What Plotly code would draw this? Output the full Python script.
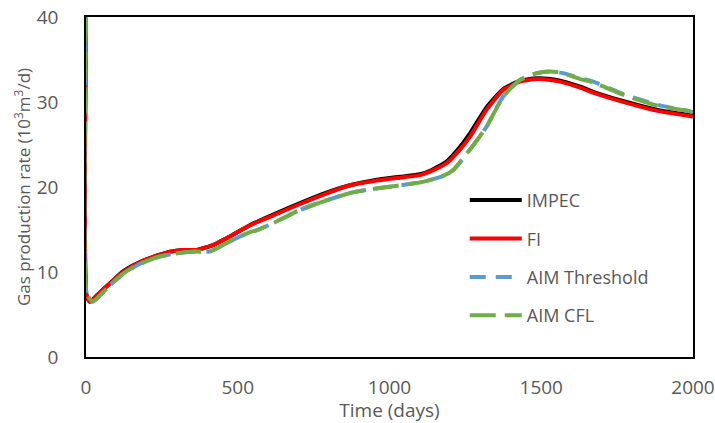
import plotly.graph_objects as go

# FI / IMPEC (nearly identical)
t_fi = [0, 2, 13, 40, 80, 123, 180, 240, 277, 320, 365, 420, 480, 540, 600, 705, 790, 870, 950, 1035, 1100, 1133, 1188, 1232, 1265, 1320, 1374, 1430, 1485, 1530, 1562, 1628, 1671, 1781, 1891, 2000]
q_fi = [40, 7.2, 6.5, 7.4, 8.7, 10.0, 11.2, 12.0, 12.4, 12.6, 12.6, 13.2, 14.3, 15.5, 16.4, 18.0, 19.2, 20.2, 20.7, 21.1, 21.4, 21.8, 22.8, 24.4, 25.9, 29.1, 31.4, 32.4, 32.7, 32.6, 32.4, 31.7, 31.1, 29.9, 28.9, 28.3]

t_impec = [0, 2, 13, 40, 80, 123, 180, 240, 277, 320, 365, 420, 480, 540, 600, 705, 790, 870, 950, 1035, 1100, 1133, 1188, 1232, 1265, 1320, 1374, 1430, 1485, 1530, 1562, 1628, 1671, 1781, 1891, 2000]
q_impec = [40, 7.2, 6.5, 7.4, 8.7, 10.1, 11.2, 12.0, 12.4, 12.6, 12.6, 13.2, 14.3, 15.5, 16.5, 18.1, 19.3, 20.2, 20.8, 21.2, 21.5, 21.9, 23.0, 24.7, 26.3, 29.4, 31.5, 32.5, 32.8, 32.7, 32.5, 31.8, 31.2, 30.0, 29.0, 28.4]

# AIM Threshold / AIM CFL (nearly identical)
t_aim = [0, 2, 22, 50, 90, 130, 180, 240, 300, 360, 408, 474, 540, 562, 620, 705, 790, 870, 950, 1035, 1110, 1177, 1210, 1265, 1320, 1374, 1430, 1485, 1530, 1572, 1628, 1671, 1781, 1891, 1990, 2000]
q_aim = [40, 7.5, 6.5, 7.4, 8.8, 10.0, 11.0, 11.8, 12.2, 12.4, 12.4, 13.6, 14.7, 14.9, 15.8, 17.3, 18.4, 19.3, 19.8, 20.2, 20.6, 21.3, 22.0, 24.4, 27.1, 30.6, 32.6, 33.4, 33.6, 33.4, 32.8, 32.4, 30.8, 29.6, 28.9, 28.8]

t_cfl = t_aim
q_cfl = [40, 7.5, 6.5, 7.4, 8.8, 10.0, 11.0, 11.8, 12.2, 12.4, 12.4, 13.6, 14.7, 14.9, 15.8, 17.3, 18.4, 19.3, 19.8, 20.2, 20.6, 21.3, 22.0, 24.4, 27.1, 30.6, 32.6, 33.4, 33.6, 33.4, 32.7, 32.3, 30.7, 29.5, 28.9, 28.8]

x_ticks = [0, 500, 1000, 1500, 2000]
y_ticks = [0, 10, 20, 30, 40]

grey = "#595959"
fig = go.Figure()
fig.add_trace(go.Scatter(x=t_impec, y=q_impec, mode="lines", name="IMPEC",
                         line=dict(color="black", width=4, shape="spline", smoothing=0.5),
                         legendgroup="a"))
fig.add_trace(go.Scatter(x=t_fi, y=q_fi, mode="lines", name="FI",
                         line=dict(color="#ff0000", width=4, shape="spline", smoothing=0.5),
                         legendgroup="b"))
fig.add_trace(go.Scatter(x=t_aim, y=q_aim, mode="lines", name="AIM Threshold",
                         line=dict(color="#5b9bd5", width=4, dash="16px,10px", shape="spline", smoothing=0.5),
                         legendgroup="c"))
fig.add_trace(go.Scatter(x=t_cfl, y=q_cfl, mode="lines", name="AIM CFL",
                         line=dict(color="#70ad47", width=4, dash="26px,9px", shape="spline", smoothing=0.5),
                         legendgroup="d"))

fig.update_layout(
    width=715, height=423,
    margin=dict(l=86, r=22, t=17, b=66, autoexpand=False),
    paper_bgcolor="white", plot_bgcolor="white",
    font=dict(family="Open Sans, Liberation Sans, sans-serif", color=grey),
    showlegend=True,
    legend=dict(x=0.624, y=0.515, xanchor="left", yanchor="top",
                font=dict(size=18, color=grey), bgcolor="rgba(0,0,0,0)",
                traceorder="grouped", tracegroupgap=12, itemwidth=52),
    xaxis=dict(range=[0, 2000], tickvals=x_ticks, ticks="", showgrid=False,
               zeroline=False, showline=True, linecolor="black", linewidth=1.5, mirror=True,
               tickfont=dict(size=19, color=grey), ticklabelstandoff=12, automargin=False,
               title=dict(text="Time (days)", font=dict(size=19, color=grey), standoff=8)),
    yaxis=dict(range=[0, 40], tickvals=y_ticks, ticks="", showgrid=False,
               zeroline=False, showline=True, linecolor="black", linewidth=1.5, mirror=True,
               tickfont=dict(size=19, color=grey), ticklabelstandoff=22, automargin=False,
               title=dict(text="Gas production rate (10<sup>3</sup>m<sup>3</sup>/d)",
                          font=dict(size=17, color=grey), standoff=2)),
)

fig.write_html("out.html")
